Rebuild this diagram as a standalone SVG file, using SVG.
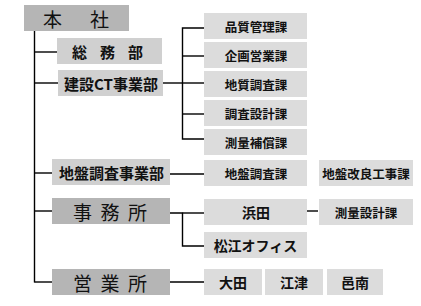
<svg xmlns="http://www.w3.org/2000/svg" width="421" height="306" viewBox="0 0 421 306">
<style>
.dk{fill:#b5b5b5}
.md{fill:#d0d0d0}
.lt{fill:#dcdcdc}
.ln{stroke:#000;stroke-width:1.4;fill:none}
text{font-family:"Noto Sans CJK JP","Noto Sans CJK SC",sans-serif;fill:#111;dominant-baseline:central}
.big{font-size:19px;font-weight:normal}
.mid{font-size:15px;font-weight:bold}
.sm{font-size:12.5px;font-weight:bold;text-anchor:middle}
.sm2{font-size:14px;font-weight:bold;text-anchor:middle}
</style>
<rect width="421" height="306" fill="#fff"/>
<g id="connectors" class="ln">
<path d="M34.5 31V282.5"/>
<path d="M34.5 52H57"/>
<path d="M34.5 83H58"/>
<path d="M34.5 173H52"/>
<path d="M34.5 211H52"/>
<path d="M34.5 282H52"/>
<path d="M163 83H183"/>
<path d="M204 28H182.5V139H204"/>
<path d="M182.5 56H204"/>
<path d="M182.5 83H204"/>
<path d="M182.5 114H204"/>
<path d="M170 174H204"/>
<path d="M170 213H182.5V246H204"/>
<path d="M182.5 213H204"/>
<path d="M307 211H318"/>
<path d="M170 282H204"/>
</g>
<g id="honsha"><rect class="dk" x="24" y="5" width="105" height="26"/><text class="big" x="43" y="18.5" font-size="20" style="letter-spacing:28px">本社</text></g>
<g id="somubu"><rect class="md" x="57" y="38" width="105" height="26"/><text class="mid" x="72" y="51.5" style="letter-spacing:13px">総務部</text></g>
<g id="kensetsu"><rect class="md" x="58" y="70" width="105" height="26"/><text class="mid" x="111" y="83.5" text-anchor="middle">建設CT事業部</text></g>
<g id="hinshitsu"><rect class="lt" x="204" y="13" width="103" height="26"/><text class="sm" x="256" y="26.5">品質管理課</text></g>
<g id="kikaku"><rect class="lt" x="204" y="42" width="103" height="26"/><text class="sm" x="256" y="55.5">企画営業課</text></g>
<g id="chishitsu"><rect class="lt" x="204" y="71" width="103" height="26"/><text class="sm" x="256" y="84.5">地質調査課</text></g>
<g id="chosa"><rect class="lt" x="204" y="100" width="103" height="26"/><text class="sm" x="256" y="113.5">調査設計課</text></g>
<g id="sokuryo"><rect class="lt" x="204" y="129" width="103" height="26"/><text class="sm" x="256" y="142.5">測量補償課</text></g>
<g id="jiban"><rect class="md" x="52" y="159" width="118" height="26"/><text class="mid" x="111.5" y="172.5" text-anchor="middle">地盤調査事業部</text></g>
<g id="jibanchosa"><rect class="lt" x="204" y="160" width="103" height="26"/><text class="sm" x="256" y="173.5">地盤調査課</text></g>
<g id="jibankairyo"><rect class="lt" x="319" y="160" width="94" height="26"/><text class="sm" x="366" y="173.5" font-size="11">地盤改良工事課</text></g>
<g id="jimusho"><rect class="dk" x="52" y="198" width="118" height="26"/><text class="big" x="73" y="211.5" style="letter-spacing:8.5px">事務所</text></g>
<g id="hamada"><rect class="lt" x="204" y="199" width="103" height="26"/><text class="sm2" x="256" y="212">浜田</text></g>
<g id="sokuryosekkei"><rect class="lt" x="319" y="199" width="94" height="26"/><text class="sm" x="366" y="212.5">測量設計課</text></g>
<g id="matsue"><rect class="lt" x="204" y="232" width="103" height="26"/><text class="sm2" x="255.5" y="245">松江オフィス</text></g>
<g id="eigyosho"><rect class="dk" x="52" y="269" width="118" height="26"/><text class="big" x="73" y="282.5" style="letter-spacing:8.5px">営業所</text></g>
<g id="ota"><rect class="lt" x="204" y="269" width="58" height="26"/><text class="sm2" x="233" y="282">大田</text></g>
<g id="gotsu"><rect class="lt" x="265" y="269" width="58" height="26"/><text class="sm2" x="294" y="282">江津</text></g>
<g id="onan"><rect class="lt" x="327" y="269" width="56" height="26"/><text class="sm2" x="355" y="282">邑南</text></g>
</svg>
